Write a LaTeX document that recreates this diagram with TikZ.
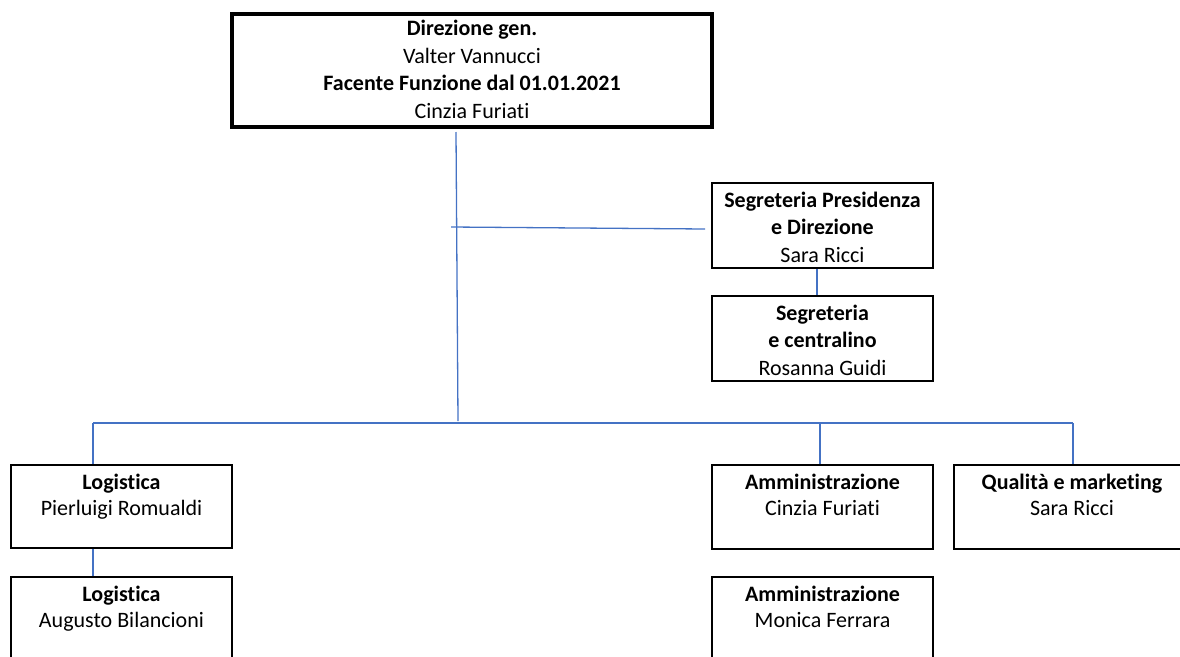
\documentclass[tikz,border=0pt]{standalone}
\usepackage{fontspec}
\setmainfont{Carlito}[Ligatures={NoCommon}]
\definecolor{lineblue}{RGB}{68,114,196}
\begin{document}
\begin{tikzpicture}[x=1pt,y=-1pt,
  box/.style={draw=black,line width=1.6pt,inner sep=0pt,rectangle},
  bigbox/.style={draw=black,line width=4pt,inner sep=0pt,rectangle},
  txt/.style={anchor=north,inner sep=0pt,align=center,font=\fontsize{22}{27.5}\selectfont},
  stxt/.style={txt,font=\fontsize{22}{26.5}\selectfont},
  conn/.style={draw=lineblue,line width=1.3pt}]
\useasboundingbox (0,0) rectangle (1180,656);
\begin{scope}
\clip (0,0) rectangle (1180,656);
% boxes
\node[bigbox,minimum width=480pt,minimum height=113pt] (dg) at (472,70.5) {};
\node[box,minimum width=221pt,minimum height=85pt] (sp) at (822.5,225.5) {};
\node[box,minimum width=221pt,minimum height=85pt] (sc) at (822.5,338.5) {};
\node[box,minimum width=221pt,minimum height=83pt] (l1) at (121.5,506.5) {};
\node[box,minimum width=221pt,minimum height=93pt] (l2) at (121.5,623.5) {};
\node[box,minimum width=221pt,minimum height=84pt] (a1) at (822.5,507) {};
\node[box,minimum width=236pt,minimum height=84pt] (q) at (1072,507) {};
\node[box,minimum width=221pt,minimum height=93pt] (a2) at (822.5,623.5) {};
% texts
\node[txt] (tdg) at ([yshift=-8pt]dg.north) {\textbf{Direzione gen.}\\Valter Vannucci\\\textbf{Facente Funzione dal 01.01.2021}\\Cinzia Furiati};
\node[txt] (tsp) at ([yshift=-9.5pt]sp.north) {\textbf{Segreteria Presidenza}\\\textbf{e Direzione}\\Sara Ricci};
\node[txt] (tsc) at ([yshift=-9.5pt]sc.north) {\textbf{Segreteria}\\\textbf{e centralino}\\Rosanna Guidi};
\node[stxt] (tl1) at ([yshift=-9.5pt]l1.north) {\textbf{Logistica}\\Pierluigi Romualdi};
\node[stxt] (tl2) at ([yshift=-9.5pt]l2.north) {\textbf{Logistica}\\Augusto Bilancioni};
\node[stxt] (ta1) at ([yshift=-9.5pt]a1.north) {\textbf{Amministrazione}\\Cinzia Furiati};
\node[stxt] (tq) at ([yshift=-9.5pt]q.north) {\textbf{Qualità e marketing}\\Sara Ricci};
\node[stxt] (ta2) at ([yshift=-9.5pt]a2.north) {\textbf{Amministrazione}\\Monica Ferrara};
% connector points
\coordinate (vb) at (458,421);
\coordinate (bl) at (93,423);
\coordinate (br) at (1073,423);
\coordinate (bm) at (820,423);
\coordinate (hs) at (451,227);
% connectors
\draw[conn] ([yshift=-3pt]dg.south -| 456,0) -- (vb);
\draw[conn] (bl) -- (br);
\draw[conn] (bl) -- (l1.north -| bl);
\draw[conn] (bm) -- (a1.north -| bm);
\draw[conn] (br) -- (q.north -| br);
\draw[conn] (l1.south -| bl) -- (l2.north -| bl);
\draw[conn] (hs) -- ([xshift=-6pt,yshift=-3.5pt]sp.west);
\draw[conn] ([xshift=-5.5pt]sp.south) -- ([xshift=-5.5pt]sc.north);
\end{scope}
\end{tikzpicture}
\end{document}
